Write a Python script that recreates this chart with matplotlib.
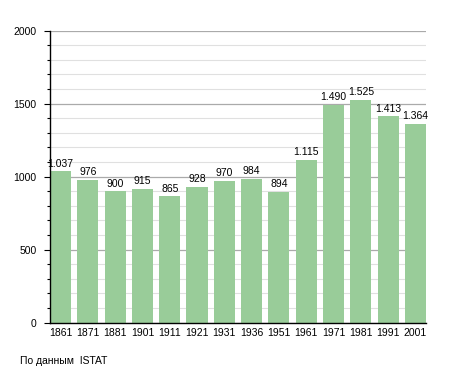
import matplotlib
matplotlib.use("Agg")
import matplotlib.pyplot as plt
from matplotlib.ticker import MultipleLocator

years = ["1861", "1871", "1881", "1901", "1911", "1921", "1931", "1936",
         "1951", "1961", "1971", "1981", "1991", "2001"]
population = [1037, 976, 900, 915, 865, 928, 970, 984, 894, 1115, 1490, 1525, 1413, 1364]
value_labels = ["1.037", "976", "900", "915", "865", "928", "970", "984",
                "894", "1.115", "1.490", "1.525", "1.413", "1.364"]
caption = "По данным  ISTAT"

plt.rcParams['font.family'] = ['Liberation Sans', 'DejaVu Sans']

fig = plt.figure(figsize=(4.55, 3.73), dpi=100)
ax = fig.add_axes([0.1099, 0.1349, 0.936 - 0.1099, 0.9177 - 0.1349])

w = 0.77
x = list(range(len(years)))
ax.bar(x, population, width=w, color="#99CC99", zorder=3)
for xi, v, lab in zip(x, population, value_labels):
    ax.annotate(lab, (xi, v), xytext=(0, 2), textcoords="offset points",
                ha="center", va="bottom", fontsize=7.5, color="black", zorder=4)

ax.set_xlim(-w / 2, len(years) - 1 + w / 2)
ax.set_ylim(0, 2000)
ax.yaxis.set_major_locator(MultipleLocator(500))
ax.yaxis.set_minor_locator(MultipleLocator(100))
ax.grid(axis="y", which="major", color="#aaaaaa", linewidth=0.9, zorder=1)
ax.grid(axis="y", which="minor", color="#e0e0e0", linewidth=0.8, zorder=1)
ax.set_axisbelow(True)

ax.set_xticks(x)
ax.set_xticklabels(years)
ax.tick_params(axis="x", length=0, pad=4, labelsize=7.5)
ax.tick_params(axis="y", which="major", length=4.3, width=0.8, pad=5.5, labelsize=7.5)
ax.tick_params(axis="y", which="minor", length=2, width=0.8)

for s in ["top", "right"]:
    ax.spines[s].set_visible(False)
for s in ["left", "bottom"]:
    ax.spines[s].set_color("black")
    ax.spines[s].set_linewidth(1.0)
    ax.spines[s].set_zorder(5)

fig.text(20 / 455, 1 - 361 / 373, caption, fontsize=7.5, ha="left", va="center")

fig.savefig("out.png", dpi=100)
